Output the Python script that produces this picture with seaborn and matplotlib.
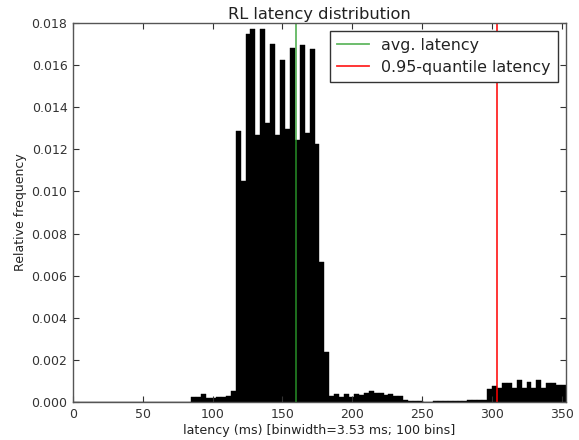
import numpy as np
import pandas as pd
import matplotlib
matplotlib.use("Agg")
import matplotlib.pyplot as plt
import seaborn as sns
from matplotlib.ticker import FormatStrFormatter, MultipleLocator

# ---- data ----
bin_width = 3.53
n_bins = 100
first_nonzero_bin = 24
rel_freq = [
    0.00025, 0.00025, 0.00038, 0.00022, 0.00022, 0.00026, 0.00024, 0.00030, 0.00052,  # 24-32
    0.01287, 0.01050, 0.01748, 0.01772, 0.01266, 0.01769, 0.01326, 0.01701,           # 33-40
    0.01266, 0.01622, 0.01294, 0.01680, 0.01242, 0.01696, 0.01279, 0.01677,           # 41-48
    0.01227, 0.00665, 0.00238,                                                         # 49-51
    0.00030, 0.00040, 0.00025, 0.00040, 0.00025, 0.00040, 0.00035, 0.00046,           # 52-59
    0.00054, 0.00046, 0.00043, 0.00035, 0.00040, 0.00028, 0.00030, 0.00013,           # 60-67
    0.00005, 0.00005, 0.00008, 0.00003, 0.00003, 0.00004, 0.00008, 0.00005,           # 68-75
    0.00005, 0.00005, 0.00006, 0.00008, 0.00009, 0.00010, 0.00010, 0.00010,           # 76-83
    0.00062, 0.00077, 0.00066, 0.00090, 0.00090, 0.00066, 0.00108, 0.00066,           # 84-91
    0.00098, 0.00066, 0.00106, 0.00066, 0.00090, 0.00090, 0.00083, 0.00083,           # 92-99
]
avg_latency = 159.8
q95_latency = 303.7

title = "RL latency distribution"
xlabel = "latency (ms) [binwidth=3.53 ms; 100 bins]"
ylabel = "Relative frequency"
legend_labels = ["avg. latency", "0.95-quantile latency"]

# ---- build ----
heights = np.zeros(n_bins)
heights[first_nonzero_bin:first_nonzero_bin + len(rel_freq)] = rel_freq
centers = (np.arange(n_bins) + 0.5) * bin_width
df = pd.DataFrame({"latency": centers, "freq": heights})

plt.rcParams['font.family'] = ['DejaVu Sans']
fig = plt.figure(figsize=(5.79, 4.40), dpi=100)
ax = fig.add_axes([0.126, 0.0857, 0.8515, 0.8627])

sns.histplot(data=df, x="latency", weights="freq", binwidth=bin_width,
             binrange=(0, n_bins * bin_width), stat="count",
             color="black", alpha=1.0, edgecolor="black", linewidth=0.3, ax=ax)

ax.axvline(avg_latency, color="#2ca02c", alpha=0.75, lw=1.3, label=legend_labels[0])
ax.axvline(q95_latency, color="red", alpha=0.85, lw=1.3, label=legend_labels[1])

ax.set_xlim(0, n_bins * bin_width)
ax.set_ylim(0, 0.018)
ax.xaxis.set_major_locator(MultipleLocator(50))
ax.yaxis.set_major_locator(MultipleLocator(0.002))
ax.yaxis.set_major_formatter(FormatStrFormatter('%.3f'))
ax.tick_params(direction="in", top=True, right=True, length=4, width=0.8,
               labelsize=9, colors="#333333", pad=4)
for s in ax.spines.values():
    s.set_color("#555555")
    s.set_linewidth(1.0)

ax.set_title(title, fontsize=11.7, color="#222222", pad=3)
ax.set_xlabel(xlabel, fontsize=9.1, color="#222222", labelpad=2)
ax.set_ylabel(ylabel, fontsize=9, color="#222222", labelpad=3)

leg = ax.legend(loc="upper right", fontsize=11.4, fancybox=False, framealpha=1,
                borderaxespad=0.5, handlelength=2.0, borderpad=0.45,
                labelspacing=0.45)
leg.get_frame().set_edgecolor("#333333")
for t in leg.get_texts():
    t.set_color("#222222")

fig.savefig("out.png", dpi=100)
